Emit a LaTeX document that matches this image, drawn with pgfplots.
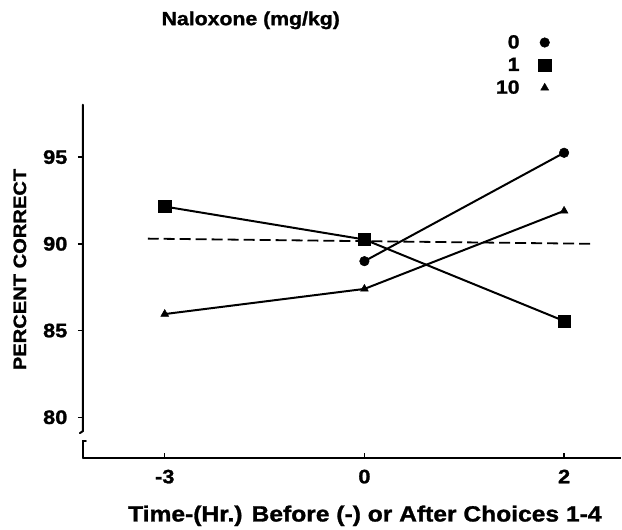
\documentclass[border=0pt]{standalone}
\usepackage{fontspec}
\setmainfont{Liberation Sans}[FakeStretch=1.12, BoldFeatures={FakeBold=1.3}]
\usepackage{pgfplots}
\pgfplotsset{compat=1.18}

\newcommand{\fs}[1]{\fontsize{#1}{#1}\selectfont\bfseries}

\begin{document}
\begin{tikzpicture}
\begin{axis}[
  x=200pt, y=17.37pt,
  xmin=-0.41, xmax=2.285, ymin=77.64, ymax=98.02,
  axis lines=left, axis line style={-, line width=2pt},
  y axis line style={draw=none},
  clip=false,
  xtick={0,1,2}, xticklabels={-3,0,2},
  ytick={80,85,90,95},
  major tick length=5pt,
  xtick align=inside, ytick align=outside,
  tick style={black, line width=1.4pt},
  /pgf/number format/assume math mode=true,
  ticklabel style={font=\fs{19.5}},
  xticklabel style={yshift=-8pt},
  yticklabel style={xshift=-7pt},
  xlabel={Time-(Hr.) Before (-) or After Choices 1-4},
  xlabel style={font=\fs{22}, at={(axis description cs:0.524,-0.163)}, anchor=center},
  ylabel={PERCENT CORRECT},
  ylabel style={font=\fs{18}, at={(axis description cs:-0.117,0.534)}, anchor=center},
  title={Naloxone (mg/kg)},
  title style={font=\fs{19}, at={(axis description cs:0.312,1.222)}, anchor=center},
  legend plot pos=right,
  legend cell align=right,
  legend style={draw=none, fill=none, font=\fs{19}, inner sep=0pt,
    at={(axis cs:1.935,102.16)}, anchor=north east,
    row sep=4pt, column sep=17pt},
  legend image code/.code={\draw[#1, line width=0.5pt] plot[only marks] coordinates {(0cm,0cm)};},
]
\addplot[black, line width=1.8pt, dash pattern=on 11pt off 5pt, forget plot]
  coordinates {(-0.085,90.3) (2.15,90.0)};
\addplot[black, line width=2pt, mark=*, mark size=4.8pt, mark options={solid, line width=0.5pt}]
  coordinates {(1,89.0) (2,95.25)};
\addlegendentry{0}
\addplot[black, line width=2pt, mark=square*, mark size=6.2pt, mark options={solid, line width=0.5pt}]
  coordinates {(0,92.15) (1,90.25) (2,85.55)};
\addlegendentry{1}
\addplot[black, line width=2pt, mark=triangle*, mark size=4.5pt, mark options={solid, line width=0.5pt}]
  coordinates {(0,85.95) (1,87.4) (2,91.9)};
\addlegendentry{10}
% broken y axis
\draw[line width=2pt, line cap=round] (axis cs:-0.41,98.02) -- (axis cs:-0.41,79.2) -- ++(-3pt,-2pt);
\draw[line width=2pt, line cap=round] (axis cs:-0.41,77.64) -- (axis cs:-0.41,78.62) -- ++(3pt,0pt);
\path (axis cs:-0.825,73.72) rectangle (axis cs:2.285,104.06);
\end{axis}
\end{tikzpicture}
\end{document}
